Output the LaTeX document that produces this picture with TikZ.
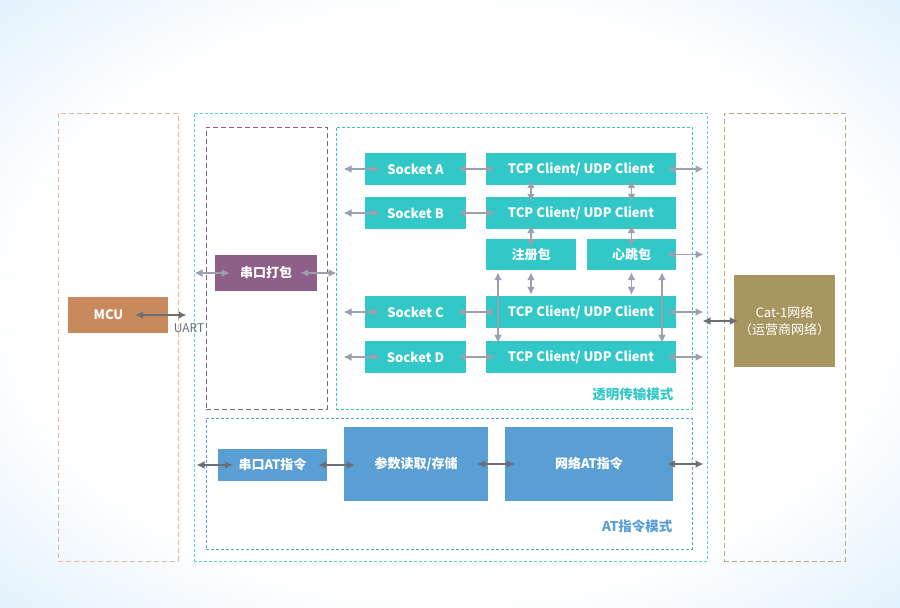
\documentclass[tikz,border=0pt]{standalone}
\usepackage{fontspec}
\setmainfont{Noto Sans CJK SC}
\usetikzlibrary{arrows.meta, positioning}

\definecolor{bgblue}{RGB}{200,230,253}
\definecolor{bgdeep}{RGB}{186,221,251}
\definecolor{tealbox}{RGB}{50,200,200}
\definecolor{tealline}{RGB}{90,214,214}
\definecolor{purplebox}{RGB}{142,96,137}
\definecolor{mcubox}{RGB}{200,137,93}
\definecolor{mculine}{RGB}{228,184,150}
\definecolor{catbox}{RGB}{168,150,96}
\definecolor{catline}{RGB}{190,172,120}
\definecolor{atblue}{RGB}{90,159,212}
\definecolor{lightarrow}{RGB}{154,160,174}
\definecolor{darkarrow}{RGB}{108,110,117}

\pgfdeclareradialshading{bgglow}{\pgfpoint{0bp}{0bp}}{color(0bp)=(white); color(24bp)=(white); color(46bp)=(bgblue); color(72bp)=(bgdeep)}

\begin{document}
\begin{tikzpicture}[x=1pt, y=-1pt,
	frame/.style={draw=#1, line width=1pt, dash pattern=on 5pt off 3pt, inner sep=0pt},
	fine/.style={dash pattern=on 3pt off 2pt},
	block/.style={fill=#1, text=white, inner sep=0pt, font=\bfseries\fontsize{13}{15}\selectfont},
	lnk/.style={lightarrow, line width=1.6pt, {Latex[length=8pt,width=8pt]}-{Latex[length=8pt,width=8pt]}},
	dlnk/.style={darkarrow, line width=1.9pt, {Latex[length=8pt,width=8pt]}-{Latex[length=8pt,width=8pt]}}]

	\useasboundingbox (0,0) rectangle (900,608);
	\shade[shading=bgglow] (0,0) rectangle (900,608);

	% columns and mode frames
	\node[frame=mculine, minimum width=120pt, minimum height=448pt] (mcol) at (118,337) {};
	\node[frame=tealline, fine, minimum width=513pt, minimum height=448pt] (mid) at (450.5,337) {};
	\node[frame=catline, minimum width=121pt, minimum height=448pt] (ccol) at (784.5,337) {};
	\node[frame=purplebox, minimum width=121pt, minimum height=282pt] (packf) at (266.5,268) {};
	\node[frame=tealbox, fine, minimum width=356pt, minimum height=282pt] (tmode) at (514,268) {};
	\node[frame=atblue, fine, minimum width=486pt, minimum height=131pt] (atmode) at (449,483.5) {};

	% blocks
	\node[block=mcubox, minimum width=100pt, minimum height=36pt] (mcu) at (118,315) {MCU\hspace*{19pt}};
	\node[block=purplebox, minimum width=102pt, minimum height=36pt] (pack) at (266,273) {串口打包};

	\node[block=tealbox, minimum width=101pt, minimum height=32pt] (sockA) at (415.5,169) {Socket A};
	\node[block=tealbox, minimum width=101pt, minimum height=32pt] (sockB) at (415.5,213) {Socket B};
	\node[block=tealbox, minimum width=101pt, minimum height=32pt] (sockC) at (415.5,312) {Socket C};
	\node[block=tealbox, minimum width=101pt, minimum height=32pt] (sockD) at (415.5,357) {Socket D};

	\node[block=tealbox, minimum width=190pt, minimum height=32pt] (tcpA) at (581,169) {TCP Client/ UDP Client};
	\node[block=tealbox, minimum width=190pt, minimum height=32pt] (tcpB) at (581,213) {TCP Client/ UDP Client};
	\node[block=tealbox, minimum width=190pt, minimum height=32pt] (tcpC) at (581,312) {TCP Client/ UDP Client};
	\node[block=tealbox, minimum width=190pt, minimum height=32pt] (tcpD) at (581,357) {TCP Client/ UDP Client};

	\node[block=tealbox, minimum width=90pt, minimum height=31pt] (reg) at (531,254.5) {注册包};
	\node[block=tealbox, minimum width=89pt, minimum height=31pt] (beat) at (631.5,254.5) {心跳包};

	\node[block=catbox, minimum width=101pt, minimum height=92pt, align=center,
		font=\fontsize{13}{17}\selectfont] (cat) at (784.5,321) {Cat-1网络\\（运营商网络）};

	\node[block=atblue, minimum width=109pt, minimum height=32pt] (atser) at (272.5,465) {串口AT指令};
	\node[block=atblue, minimum width=144pt, minimum height=74pt] (param) at (416,464) {参数读取/存储};
	\node[block=atblue, minimum width=168pt, minimum height=74pt] (netat) at (589,464) {网络AT指令};

	% labels
	\node[anchor=east, text=tealbox, font=\bfseries\fontsize{13.5}{15}\selectfont] (tlabel) at (677,394) {透明传输模式};
	\node[anchor=east, text=atblue, font=\bfseries\fontsize{13.5}{15}\selectfont] (atlabel) at (676,526) {AT指令模式};
	\node[text=darkarrow, font=\fontsize{12}{14}\selectfont] (uart) at (189,328) {UART};

	% MCU side
	\draw[dlnk] ([xshift=-33pt]mcu.east) -- ([xshift=-7pt]mid.west |- mcu.east);
	\draw[lnk] ([xshift=1pt]mid.west |- pack.west) -- ([xshift=15pt]pack.west);
	\draw[lnk] ([xshift=-17pt]pack.east) -- ([xshift=1pt]tmode.west |- pack.east);

	% sockets to clients
	\foreach \s in {A,B,C,D} {
		\draw[lnk] ([xshift=8pt]tmode.west |- sock\s.west) -- ([xshift=15pt]sock\s.west);
		\draw[lnk] ([xshift=-8pt]sock\s.east) -- ([xshift=9pt]tcp\s.west);
	}
	\foreach \s in {A,C,D}
		\draw[lnk] ([xshift=-9pt]tcp\s.east) -- ([xshift=-4pt]mid.east |- tcp\s.east);
	\draw[lnk] ([xshift=-9pt]beat.east) -- ([xshift=-4pt]mid.east |- beat.east);

	% vertical links
	\foreach \p in {reg,beat} {
		\draw[lnk] ([yshift=5pt]\p.north |- tcpA.south) -- ([yshift=-5pt]\p.north |- tcpB.north);
		\draw[lnk] ([yshift=4pt]\p.north |- tcpB.south) -- ([yshift=-8pt]\p.north);
		\draw[lnk] ([yshift=-2pt]\p.south) -- ([yshift=1pt]\p.south |- tcpC.north);
	}
	\draw[lnk] ([xshift=-33pt,yshift=-2pt]reg.south) -- ([xshift=-33pt,yshift=-2pt]reg.south |- tcpD.north);
	\draw[lnk] ([xshift=30.5pt,yshift=-2pt]beat.south) -- ([xshift=30.5pt,yshift=-2pt]beat.south |- tcpD.north);

	% network side
	\draw[dlnk] ([xshift=-5pt]mid.east |- cat.west) -- ([xshift=4pt]cat.west);

	% AT mode
	\draw[dlnk] ([xshift=3pt]mid.west |- atser.west) -- ([xshift=15pt]atser.west);
	\draw[dlnk] ([xshift=-9pt]atser.east) -- ([xshift=11pt]param.west |- atser.east);
	\draw[dlnk] ([xshift=-11pt]param.east |- netat.west) -- ([xshift=10pt]netat.west);
	\draw[dlnk] ([xshift=-6pt]netat.east) -- ([xshift=-4pt]mid.east |- netat.east);

\end{tikzpicture}
\end{document}
